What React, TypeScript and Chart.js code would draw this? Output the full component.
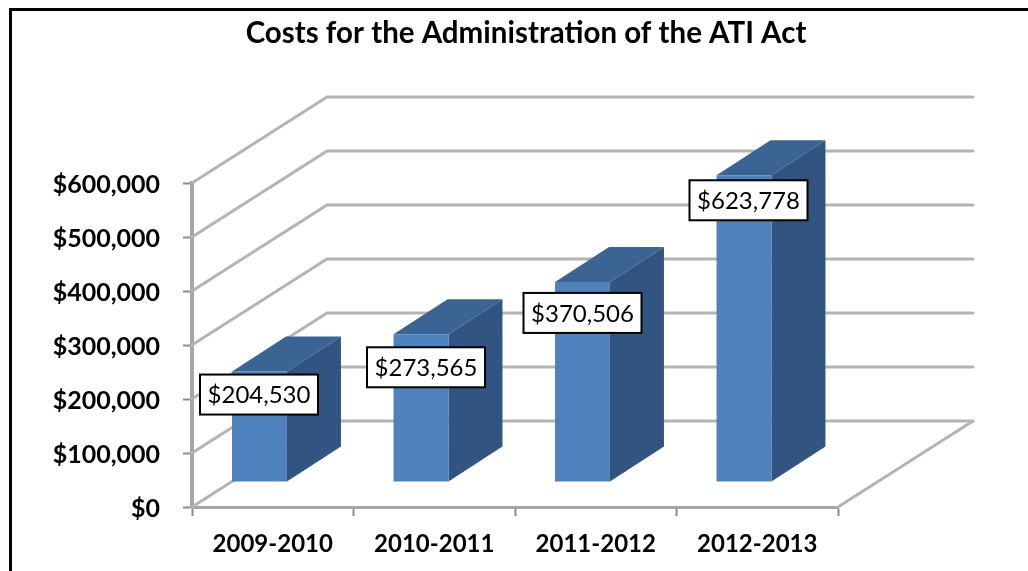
import React, { useEffect, useRef } from "react";
import { Chart, registerables } from "chart.js";

Chart.register(...registerables);

const titleText = "Costs for the Administration of the ATI Act";
const fiscalYears = ["2009-2010", "2010-2011", "2011-2012", "2012-2013"];
// The values printed on the labels.
const labelledCosts = [204530, 273565, 370506, 623778];
// The heights the bars reach in the picture (the last bar stands lower than its label says).
const barLevels = [204530, 273565, 370506, 568000];
const axisMax = 600000;
const axisStep = 100000;

const FONT = "Lato, Carlito, Calibri, sans-serif";
const GRID = "#b4b4b4";
const AXIS = "#a6a6a6";
const wall = { dx: 135, dy: -86 };
const barShift = { dx: -13.25, dy: -25 };
const barDepth = { dx: 54, dy: -35 };
const labelNudge = [
  { x: -0.5, y: 23 },
  { x: 5, y: 33 },
  { x: 0, y: 31 },
  { x: 4.5, y: 25 },
];

const money = (v: number) => "$" + Number(v).toLocaleString("en-US");

const poly = (ctx: CanvasRenderingContext2D, pts: number[][], fill: string) => {
  ctx.beginPath();
  pts.forEach(([x, y], i) => (i ? ctx.lineTo(x, y) : ctx.moveTo(x, y)));
  ctx.closePath();
  ctx.fillStyle = fill;
  ctx.fill();
};

const scene3d = {
  id: "scene3d",
  afterLayout(chart: any) {
    // Title is centred over the frame, not over the plot area.
    if (chart.titleBlock) {
      chart.titleBlock.left = 24;
      chart.titleBlock.right = 1028;
    }
  },
  beforeDatasetsDraw(chart: any) {
    const { ctx, chartArea: a, scales } = chart;
    const y = scales.y;
    ctx.save();
    ctx.lineCap = "round";
    ctx.strokeStyle = GRID;
    ctx.lineWidth = 3;
    y.ticks.forEach((t: any) => {
      const py = y.getPixelForValue(t.value);
      ctx.beginPath();
      ctx.moveTo(a.left, py);
      ctx.lineTo(a.left + wall.dx, py + wall.dy);
      ctx.lineTo(a.right + wall.dx, py + wall.dy);
      ctx.stroke();
    });
    ctx.beginPath();
    ctx.moveTo(a.right, a.bottom);
    ctx.lineTo(a.right + wall.dx, a.bottom + wall.dy);
    ctx.stroke();
    ctx.restore();
  },
  beforeDatasetDraw(chart: any, args: any) {
    const { ctx } = chart;
    ctx.save();
    ctx.translate(barShift.dx, barShift.dy);
    args.meta.data.forEach((bar: any) => {
      const r = bar.x + bar.width / 2;
      const l = bar.x - bar.width / 2;
      const { dx, dy } = barDepth;
      poly(ctx, [[r, bar.y], [r + dx, bar.y + dy], [r + dx, bar.base + dy], [r, bar.base]], "#325480");
      poly(ctx, [[l, bar.y], [l + dx, bar.y + dy], [r + dx, bar.y + dy], [r, bar.y]], "#3b6494");
    });
  },
  afterDatasetDraw(chart: any) {
    chart.ctx.restore();
  },
  afterDatasetsDraw(chart: any) {
    const { ctx } = chart;
    const meta = chart.getDatasetMeta(0);
    ctx.save();
    ctx.font = `24px ${FONT}`;
    ctx.textAlign = "center";
    ctx.textBaseline = "middle";
    meta.data.forEach((bar: any, i: number) => {
      const cx = bar.x + barShift.dx + labelNudge[i].x;
      const cy = bar.y + barShift.dy + labelNudge[i].y;
      const w = 118;
      const h = 40;
      ctx.fillStyle = "#ffffff";
      ctx.fillRect(cx - w / 2, cy - h / 2, w, h);
      ctx.strokeStyle = "#000000";
      ctx.lineWidth = 2;
      ctx.strokeRect(cx - w / 2, cy - h / 2, w, h);
      ctx.fillStyle = "#000000";
      ctx.fillText(money(labelledCosts[i]), cx, cy + 1);
    });
    ctx.restore();
  },
};

export default function App() {
  const ref = useRef<HTMLCanvasElement>(null);
  useEffect(() => {
    const chart = new Chart(ref.current as HTMLCanvasElement, {
      type: "bar",
      data: {
        labels: fiscalYears,
        datasets: [
          {
            label: "Costs",
            data: barLevels,
            backgroundColor: "#4f81bd",
            barPercentage: 0.34,
            categoryPercentage: 1,
          },
        ],
      },
      plugins: [scene3d],
      options: {
        responsive: false,
        animation: false,
        layout: { padding: { right: 190 } },
        plugins: {
          legend: { display: false },
          tooltip: { enabled: false },
          title: {
            display: true,
            text: titleText,
            color: "#000000",
            font: { family: FONT, size: 29.5, weight: "bold" },
            padding: { top: 16, bottom: 131.6 },
          },
        },
        scales: {
          x: {
            afterFit: (s: any) => {
              s.height = 64;
            },
            border: { color: AXIS, width: 3 },
            grid: { drawOnChartArea: false, color: "#8c8c8c", tickLength: 9, tickWidth: 2 },
            ticks: {
              padding: 14,
              color: "#000000",
              maxRotation: 0,
              font: { family: FONT, size: 24, weight: "bold" },
            },
          },
          y: {
            min: 0,
            max: axisMax,
            afterFit: (s: any) => {
              s.width = 192;
            },
            border: { color: AXIS, width: 4 },
            grid: { drawOnChartArea: false, color: "#8c8c8c", tickLength: 9, tickWidth: 2 },
            ticks: {
              stepSize: axisStep,
              padding: 23,
              labelOffset: 1.5,
              color: "#000000",
              font: { family: FONT, size: 25, weight: "bold" },
              callback: (v: any) => money(v),
            },
          },
        },
      },
    } as any);
    return () => chart.destroy();
  }, []);
  return (
    <div style={{ position: "absolute", left: 0, top: 0, width: 1028, height: 571, overflow: "hidden" }}>
      <div
        style={{
          position: "absolute",
          left: 9,
          top: 8,
          right: 0,
          bottom: 0,
          borderLeft: "3px solid #000",
          borderTop: "3px solid #000",
        }}
      />
      <canvas
        ref={ref}
        width={1028}
        height={571}
        style={{ position: "absolute", left: 0, top: 0, display: "block" }}
      />
    </div>
  );
}
